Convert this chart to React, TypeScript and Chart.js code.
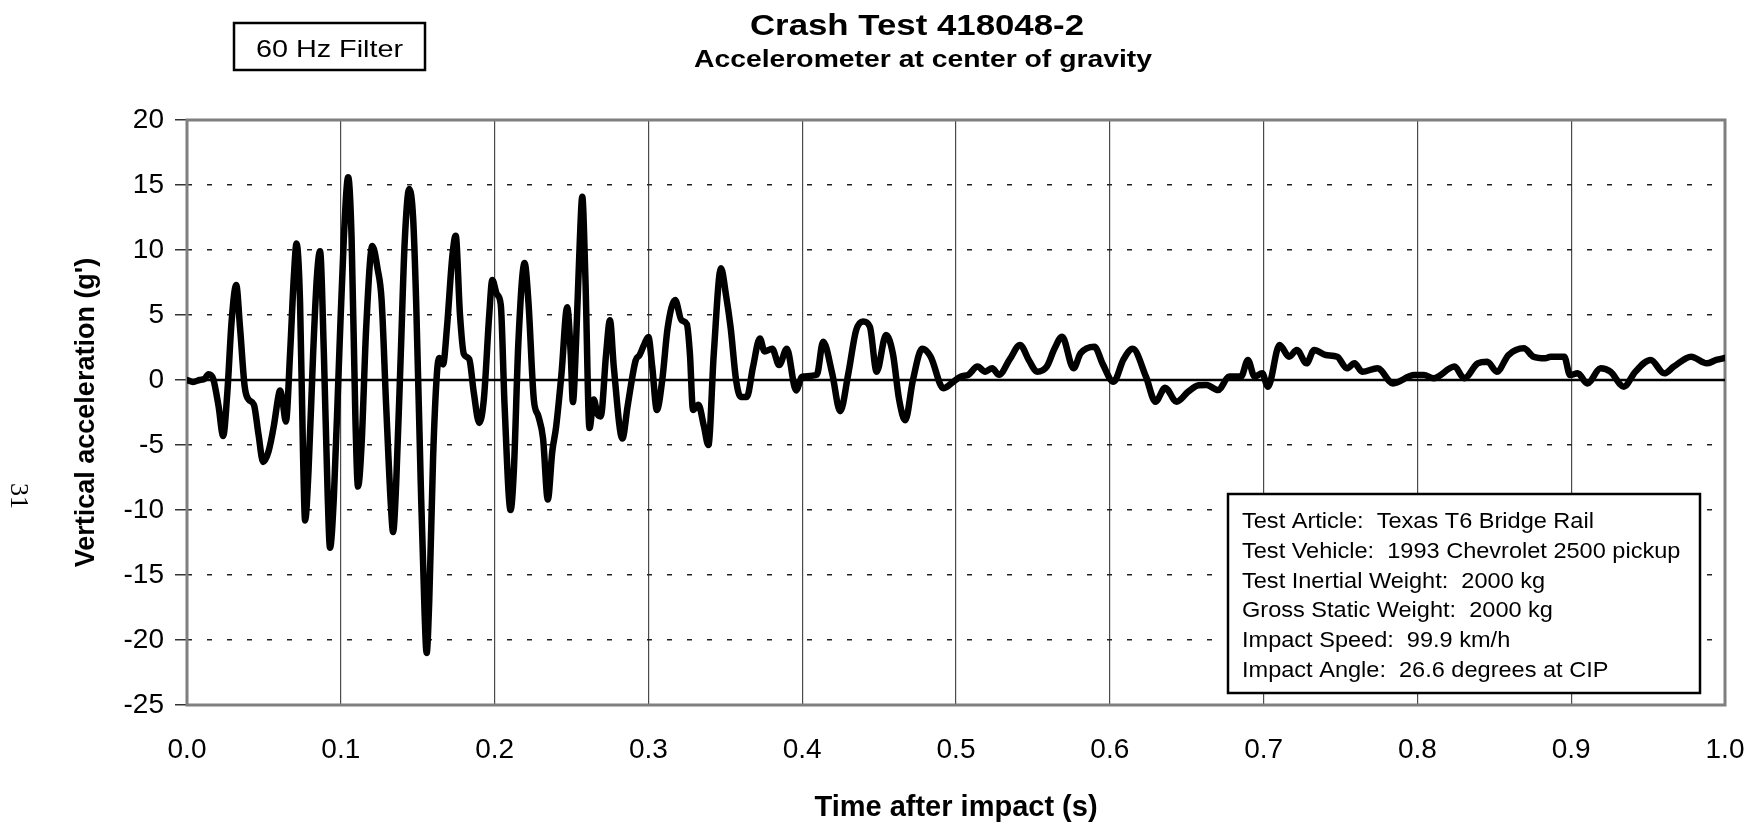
import { useEffect, useRef } from 'react';
import { Chart, registerables } from 'chart.js';

Chart.register(...registerables);

// Vertical acceleration trace, 60 Hz filtered (time in s, acceleration in g)
const times = [
  0.0, 0.004, 0.008, 0.0115, 0.014, 0.017, 0.0205, 0.0235, 0.0262, 0.029,
  0.032, 0.0345, 0.0375, 0.04, 0.0435, 0.0465, 0.0495, 0.053, 0.0565, 0.0595,
  0.0605, 0.062, 0.0643, 0.067, 0.0695, 0.0712, 0.0735, 0.0755, 0.0768, 0.079,
  0.082, 0.0845, 0.0865, 0.089, 0.0915, 0.093, 0.0955, 0.099, 0.102, 0.1048,
  0.107, 0.1095, 0.1112, 0.1135, 0.1165, 0.1205, 0.124, 0.1265, 0.1295, 0.1325,
  0.134, 0.136, 0.139, 0.1415, 0.1445, 0.147, 0.149, 0.152, 0.1545, 0.1558,
  0.1575, 0.16, 0.1625, 0.164, 0.1665, 0.169, 0.1725, 0.1747, 0.1775, 0.18,
  0.1835, 0.1865, 0.19, 0.193, 0.1965, 0.1985, 0.2015, 0.204, 0.2065, 0.2104,
  0.2125, 0.2155, 0.2195, 0.222, 0.2255, 0.2285, 0.2315, 0.2346, 0.2375, 0.24,
  0.2435, 0.2472, 0.2495, 0.2509, 0.253, 0.2555, 0.257, 0.259, 0.2617, 0.2645,
  0.2668, 0.269, 0.2725, 0.275, 0.2775, 0.2831, 0.2865, 0.2917, 0.2942, 0.2975,
  0.3, 0.3025, 0.3055, 0.309, 0.3125, 0.3174, 0.3215, 0.325, 0.327, 0.329,
  0.3325, 0.336, 0.339, 0.3425, 0.3472, 0.3505, 0.3535, 0.357, 0.36, 0.364,
  0.368, 0.3725, 0.3755, 0.3805, 0.385, 0.39, 0.396, 0.4, 0.4095, 0.4136,
  0.4195, 0.4247, 0.43, 0.435, 0.4396, 0.444, 0.4484, 0.4545, 0.459, 0.463,
  0.467, 0.472, 0.478, 0.4835, 0.4918, 0.497, 0.503, 0.508, 0.514, 0.519,
  0.5235, 0.528, 0.535, 0.5416, 0.5475, 0.5527, 0.559, 0.564, 0.569, 0.5764,
  0.581, 0.59, 0.5955, 0.6024, 0.609, 0.6149, 0.6235, 0.6297, 0.636, 0.6434,
  0.651, 0.6578, 0.6629, 0.6703, 0.6778, 0.6853, 0.6898, 0.6941, 0.6991, 0.7028,
  0.7104, 0.7166, 0.7216, 0.7279, 0.7329, 0.7404, 0.7479, 0.7541, 0.7591, 0.7641,
  0.7741, 0.7841, 0.7979, 0.8042, 0.8104, 0.8242, 0.8304, 0.8392, 0.8455, 0.8517,
  0.8592, 0.8692, 0.8755, 0.883, 0.8867, 0.8955, 0.8992, 0.9042, 0.9105, 0.9192,
  0.9255, 0.9342, 0.9417, 0.9517, 0.9605, 0.9667, 0.978, 0.9881, 0.9943, 1.0,
];

const accel = [
  0.0, -0.15, 0.0, 0.1, 0.45, 0.1, -2.0, -4.3, -1.0, 4.5,
  7.3, 4.0, -0.5, -1.5, -1.9, -4.2, -6.3, -5.5, -3.5, -1.2,
  -0.8, -1.5, -3.2, 2.0, 8.0, 10.5, 6.0, -6.0, -10.8, -7.0,
  2.0, 8.0, 9.9, 2.0, -9.0, -12.9, -9.0, 2.0, 11.0, 15.6,
  11.0, -3.0, -8.2, -5.0, 4.0, 10.3, 8.5, 6.2, -2.0, -9.5,
  -11.7, -8.0, 2.0, 10.5, 14.7, 12.5, 6.0, -8.0, -18.0, -21.0,
  -17.0, -6.0, 0.5, 1.7, 1.2, 4.0, 9.5, 11.1, 5.0, 2.0,
  1.6, -1.0, -3.3, -1.5, 5.0, 7.7, 6.6, 5.8, -2.0, -10.0,
  -7.0, 3.0, 9.0, 6.0, -1.5, -2.8, -4.5, -9.2, -5.5, -3.6,
  0.5, 5.6, 2.0, -1.7, 3.0, 11.0, 14.1, 8.0, -3.7, -1.5,
  -2.6, -2.8, 2.0, 4.6, 1.0, -4.5, -2.0, 1.5, 1.9, 2.8,
  3.3, 1.0, -2.3, 0.0, 4.0, 6.15, 4.6, 4.3, 2.0, -2.3,
  -1.9, -3.5, -5.0, 2.0, 8.6, 6.5, 4.0, 0.0, -1.3, -1.3,
  1.0, 3.2, 2.2, 2.4, 1.15, 2.4, -0.8, 0.25, 0.4, 2.95,
  0.5, -2.4, 0.5, 3.8, 4.5, 4.1, 0.64, 3.46, 2.0, -1.5,
  -3.1, 0.0, 2.4, 1.8, -0.64, -0.26, 0.26, 0.4, 1.03, 0.64,
  0.9, 0.4, 1.6, 2.7, 1.5, 0.64, 1.03, 2.4, 3.33, 0.9,
  2.05, 2.56, 1.2, -0.13, 1.6, 2.4, 0.26, -1.67, -0.6, -1.67,
  -0.9, -0.4, -0.38, -0.77, 0.26, 0.26, 1.54, 0.26, 0.51, -0.51,
  2.69, 1.79, 2.31, 1.28, 2.31, 1.92, 1.79, 0.9, 1.28, 0.64,
  0.9, -0.26, 0.38, 0.38, 0.13, 1.03, 0.13, 1.28, 1.41, 0.64,
  1.92, 2.44, 1.79, 1.67, 1.79, 1.79, 0.38, 0.51, -0.26, 0.9,
  0.64, -0.51, 0.64, 1.54, 0.51, 1.03, 1.79, 1.28, 1.54, 1.7,
];

const xTickLabels = ['0.0', '0.1', '0.2', '0.3', '0.4', '0.5', '0.6', '0.7', '0.8', '0.9', '1.0'];
const yTickValues = [-25, -20, -15, -10, -5, 0, 5, 10, 15, 20];

const chartTitle = 'Crash Test 418048-2';
const chartSubtitle = 'Accelerometer at center of gravity';
const filterLabel = '60 Hz Filter';
const xAxisTitle = 'Time after impact (s)';
const yAxisTitle = "Vertical acceleration (g')";
const pageNumber = '31';
const infoLines = [
  'Test Article:  Texas T6 Bridge Rail',
  'Test Vehicle:  1993 Chevrolet 2500 pickup',
  'Test Inertial Weight:  2000 kg',
  'Gross Static Weight:  2000 kg',
  'Impact Speed:  99.9 km/h',
  'Impact Angle:  26.6 degrees at CIP',
];

const SANS = "'Liberation Sans', Arial, Helvetica, sans-serif";
const SERIF = "'Liberation Serif', 'Times New Roman', serif";

function wideText(
  ctx: CanvasRenderingContext2D,
  text: string,
  x: number,
  y: number,
  font: string,
  sx: number,
  align: CanvasTextAlign,
) {
  ctx.save();
  ctx.font = font;
  ctx.fillStyle = '#000';
  ctx.textAlign = align;
  ctx.textBaseline = 'alphabetic';
  ctx.translate(x, y);
  ctx.scale(sx, 1);
  ctx.fillText(text, 0, 0);
  ctx.restore();
}

const decorations = {
  id: 'decorations',
  beforeDraw(chart: any) {
    const { ctx, width, height } = chart;
    ctx.save();
    ctx.fillStyle = '#fff';
    ctx.fillRect(0, 0, width, height);
    ctx.restore();
  },
  beforeDatasetsDraw(chart: any) {
    const { ctx, chartArea } = chart;
    const y0 = chart.scales.y.getPixelForValue(0);
    ctx.save();
    // plot frame
    ctx.strokeStyle = '#7f7f7f';
    ctx.lineWidth = 3;
    ctx.strokeRect(chartArea.left, chartArea.top, chartArea.right - chartArea.left, chartArea.bottom - chartArea.top);
    // zero line
    ctx.strokeStyle = '#000';
    ctx.lineWidth = 2.5;
    ctx.beginPath();
    ctx.moveTo(chartArea.left, y0);
    ctx.lineTo(chartArea.right, y0);
    ctx.stroke();
    ctx.restore();
  },
  afterDraw(chart: any) {
    const { ctx } = chart;

    wideText(ctx, chartTitle, 917, 35, `bold 29px ${SANS}`, 1.2, 'center');
    wideText(ctx, chartSubtitle, 923, 67, `bold 24px ${SANS}`, 1.18, 'center');

    // filter label box
    ctx.save();
    ctx.strokeStyle = '#000';
    ctx.lineWidth = 2.5;
    ctx.strokeRect(234, 23, 191, 47);
    ctx.restore();
    wideText(ctx, filterLabel, 329.5, 57, `24px ${SANS}`, 1.2, 'center');

    // test information box
    ctx.save();
    ctx.fillStyle = '#fff';
    ctx.fillRect(1228, 494, 472, 199);
    ctx.strokeStyle = '#000';
    ctx.lineWidth = 2.5;
    ctx.strokeRect(1228, 494, 472, 199);
    ctx.restore();
    infoLines.forEach((line, i) => {
      wideText(ctx, line, 1242, 528 + i * 29.8, `22px ${SANS}`, 1.07, 'left');
    });

    // page number
    ctx.save();
    ctx.translate(18, 496);
    ctx.rotate(Math.PI / 2);
    ctx.font = `26px ${SERIF}`;
    ctx.fillStyle = '#000';
    ctx.textAlign = 'center';
    ctx.textBaseline = 'middle';
    ctx.fillText(pageNumber, 0, 0);
    ctx.restore();
  },
};

export default function App() {
  const canvasRef = useRef<HTMLCanvasElement | null>(null);

  useEffect(() => {
    const canvas = canvasRef.current;
    if (!canvas) return;
    Chart.defaults.font.family = SANS;
    Chart.defaults.color = '#000';

    const points = times.map((t, i) => ({ x: t, y: accel[i] }));

    const chart = new Chart(canvas, {
      type: 'line',
      data: {
        datasets: [
          {
            data: points,
            borderColor: '#000',
            borderWidth: 6.5,
            pointRadius: 0,
            cubicInterpolationMode: 'monotone',
            borderJoinStyle: 'round',
            borderCapStyle: 'round',
            fill: false,
          },
        ],
      },
      options: {
        animation: false,
        responsive: false,
        maintainAspectRatio: false,
        layout: { padding: { top: 120, right: 29, left: 0, bottom: 0 } },
        plugins: {
          legend: { display: false },
          tooltip: { enabled: false },
          title: { display: false },
        },
        scales: {
          x: {
            type: 'linear',
            min: 0,
            max: 1,
            afterFit: (scale: any) => {
              scale.height = 127;
              scale.paddingLeft = 0;
              scale.paddingRight = 0;
            },
            afterBuildTicks: (scale: any) => {
              scale.ticks = xTickLabels.map((_, i) => ({ value: i / 10 }));
            },
            ticks: {
              font: { size: 28 },
              color: '#000',
              padding: 28,
              maxRotation: 0,
              autoSkip: false,
              callback: (_v: any, i: number) => xTickLabels[i],
            },
            grid: {
              drawTicks: false,
              color: (c: any) => (c.tick && (c.tick.value <= 0 || c.tick.value >= 1) ? 'rgba(0,0,0,0)' : '#4a4a4a'),
              lineWidth: 1.2,
            },
            border: { display: false },
            title: {
              display: true,
              text: xAxisTitle,
              font: { size: 29, weight: 'bold' },
              color: '#000',
              padding: { top: 0, bottom: 7 },
            },
          },
          y: {
            type: 'linear',
            min: -25,
            max: 20,
            afterFit: (scale: any) => {
              scale.width = 187;
              scale.paddingTop = 0;
              scale.paddingBottom = 0;
            },
            afterBuildTicks: (scale: any) => {
              scale.ticks = yTickValues.map((v) => ({ value: v }));
            },
            ticks: {
              font: { size: 28 },
              color: '#000',
              padding: 11,
              autoSkip: false,
            },
            grid: {
              drawTicks: true,
              tickLength: 12,
              tickColor: '#333',
              tickWidth: 1.5,
              tickBorderDash: [],
              color: '#222',
              lineWidth: 1.5,
            },
            border: { display: false, dash: [5, 15] },
            title: {
              display: true,
              text: yAxisTitle,
              font: { size: 27, weight: 'bold' },
              color: '#000',
              padding: { top: 70, bottom: 0 },
            },
          },
        },
      } as any,
      plugins: [decorations],
    });

    return () => chart.destroy();
  }, []);

  return (
    <div style={{ position: 'fixed', left: 0, top: 0, width: 1754, height: 832, background: '#fff' }}>
      <canvas ref={canvasRef} width={1754} height={832} style={{ display: 'block' }} />
    </div>
  );
}
